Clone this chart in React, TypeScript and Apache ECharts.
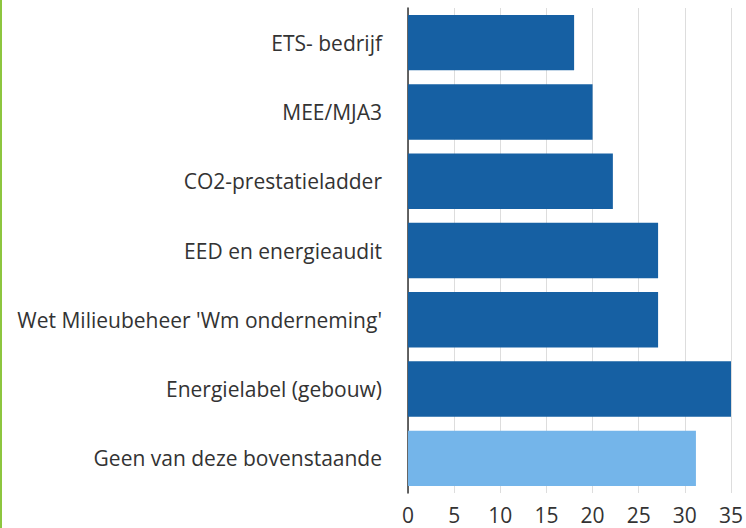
import React, { useEffect, useRef } from "react";
import * as echarts from "echarts";

const categories = [
  "ETS- bedrijf",
  "MEE/MJA3",
  "CO2-prestatieladder",
  "EED en energieaudit",
  "Wet Milieubeheer 'Wm onderneming'",
  "Energielabel (gebouw)",
  "Geen van deze bovenstaande",
];
const values = [18, 20, 22.2, 27.1, 27.1, 35, 31.2];
const highlightIndex = 6;
const xTicks = [0, 5, 10, 15, 20, 25, 30, 35];

const DARK = "#1660a3";
const LIGHT = "#74b5ea";

export default function App() {
  const ref = useRef<HTMLDivElement>(null);
  useEffect(() => {
    if (!ref.current) return;
    const chart = echarts.init(ref.current, null, { renderer: "svg" });
    const cats = [...categories].reverse();
    const vals = [...values].reverse();
    const hi = categories.length - 1 - highlightIndex;
    chart.setOption({
      animation: false,
      grid: { left: 408, right: 14, top: 8, bottom: 35, containLabel: false },
      xAxis: {
        type: "value",
        min: xTicks[0],
        max: xTicks[xTicks.length - 1],
        interval: 5,
        axisLine: { show: false },
        axisTick: { show: false },
        splitLine: { show: true, lineStyle: { color: "#dddddd", width: 1 } },
        axisLabel: {
          color: "#333333",
          fontSize: 21,
          lineHeight: 21,
          fontFamily: "Open Sans",
          margin: 11,
        },
      },
      yAxis: {
        type: "category",
        data: cats,
        axisLine: { show: true, lineStyle: { color: "#333333", width: 1.5 } },
        axisTick: { show: false },
        axisLabel: {
          color: "#333333",
          fontSize: 21,
          fontFamily: "Open Sans",
          margin: 26,
        },
      },
      series: [
        {
          type: "bar",
          data: vals.map((v, i) => ({
            value: v,
            itemStyle: { color: i === hi ? LIGHT : DARK },
          })),
          barCategoryGap: "20%",
        },
      ],
      graphic: [
        {
          type: "rect",
          shape: { x: 0, y: 0, width: 2, height: 528 },
          style: { fill: "#8dc63f" },
        },
      ],
    });
    return () => chart.dispose();
  }, []);
  return <div ref={ref} style={{ width: 746, height: 528, position: "fixed", left: 0, top: 0, background: "#fff" }} />;
}
